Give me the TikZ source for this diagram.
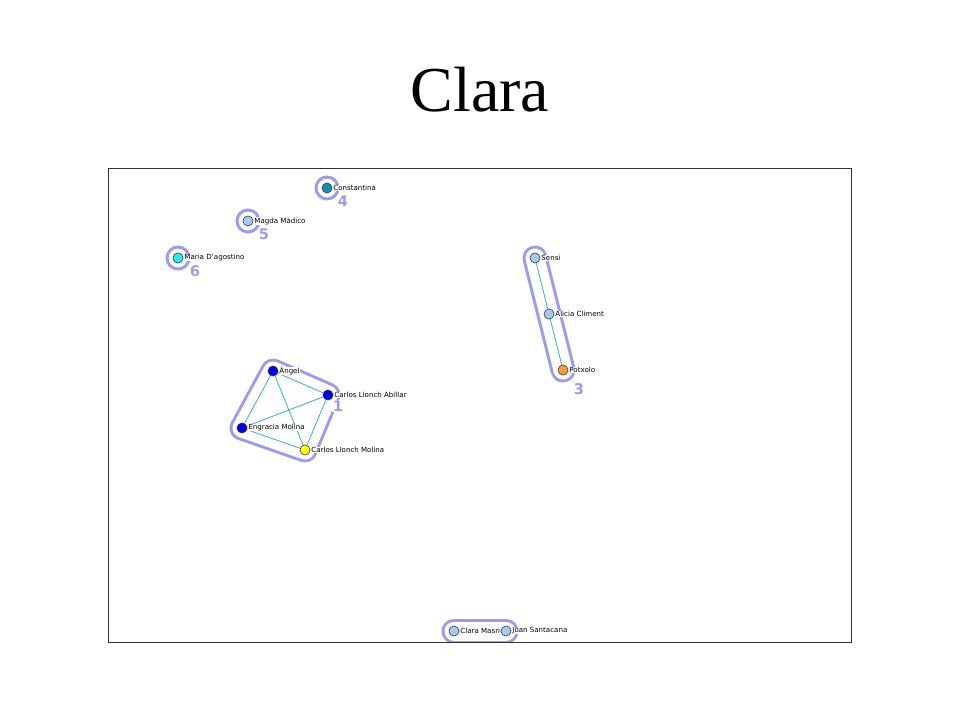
\documentclass[tikz,border=0pt]{standalone}
\usepackage{fontspec}
\setmainfont{Liberation Serif}
\setsansfont{DejaVu Sans}
\usetikzlibrary{positioning}
\definecolor{hullc}{HTML}{9C9CEE}
\definecolor{edgec}{HTML}{36AEC8}
\definecolor{bluen}{HTML}{0000E6}
\definecolor{lightn}{HTML}{A2CAF2}
\definecolor{cyann}{HTML}{22EEEE}
\definecolor{tealn}{HTML}{1490B8}
\definecolor{yellown}{HTML}{FFFF10}
\definecolor{orangen}{HTML}{FF9A3A}
\tikzset{
  person/.style={circle, draw=black!75, line width=0.45pt, inner sep=0pt, minimum size=7.6pt},
  lbl/.style={fill=white, inner sep=0pt, label distance=0.6pt, font=\sffamily\fontsize{5.3}{6}\selectfont},
  grp/.style={fill=white, inner sep=0.6pt, text=hullc, font=\sffamily\bfseries\fontsize{11}{12}\selectfont},
  hullout/.style={draw=hullc, fill=hullc, line width=18.75pt, line join=round, line cap=round},
  hullin/.style={draw=white, fill=white, line width=14.25pt, line join=round, line cap=round},
  ring/.style={draw=hullc, line width=2.25pt},
  tie/.style={edgec, line width=0.6pt}
}
\begin{document}
\begin{tikzpicture}[x=0.75pt, y=-0.75pt]
  \useasboundingbox (0,0) rectangle (960,720);
  \node (title) [anchor=base, font=\fontsize{48}{52}\selectfont] at (480,112) {Clara};
  % positions
  \coordinate (angel) at (273,371);
  \coordinate (abillar) at (328,395);
  \coordinate (engracia) at (242,428);
  \coordinate (molina) at (305,450);
  \coordinate (sensi) at (535,258);
  \coordinate (alicia) at (549,314);
  \coordinate (potxolo) at (563,370);
  \coordinate (constantina) at (327,188);
  \coordinate (magda) at (248,221);
  \coordinate (maria) at (178,258);
  \coordinate (masri) at (454,631);
  \coordinate (joan) at (506,631);
  \begin{scope}
    \clip (108,168) rectangle (851,642);
    % hulls
    \draw[hullout] (angel) -- (abillar) -- (molina) -- (engracia) -- cycle;
    \draw[hullin] (angel) -- (abillar) -- (molina) -- (engracia) -- cycle;
    \draw[hullout] (sensi) -- (potxolo);
    \draw[hullin] (sensi) -- (potxolo);
    \draw[hullout] (masri) -- (joan);
    \draw[hullin] (masri) -- (joan);
    \draw[ring] (constantina) circle (11);
    \draw[ring] (magda) circle (11);
    \draw[ring] (maria) circle (11);
    % ties
    \draw[tie] (angel) -- (abillar)
      (angel) -- (engracia)
      (angel) -- (molina)
      (abillar) -- (engracia)
      (abillar) -- (molina)
      (engracia) -- (molina)
      (sensi) -- (alicia)
      (alicia) -- (potxolo)
      (masri) -- (joan);
    % people
    \node[person, fill=bluen, label={[lbl]right:Àngel}] (angelN) at (angel) {};
    \node[person, fill=bluen, label={[lbl]right:Carlos Llonch Abillar}] (abillarN) at (abillar) {};
    \node[person, fill=bluen, label={[lbl]right:Engracia Molina}] (engraciaN) at (engracia) {};
    \node[person, fill=yellown, label={[lbl]right:Carlos Llonch Molina}] (molinaN) at (molina) {};
    \node[person, fill=lightn, label={[lbl]right:Sensi}] (sensiN) at (sensi) {};
    \node[person, fill=lightn, label={[lbl]right:Alicia Climent}] (aliciaN) at (alicia) {};
    \node[person, fill=orangen, label={[lbl]right:Potxolo}] (potxoloN) at (potxolo) {};
    \node[person, fill=tealn, label={[lbl]right:Constantina}] (constantinaN) at (constantina) {};
    \node[person, fill=lightn, label={[lbl]right:Magda Màdico}] (magdaN) at (magda) {};
    \node[person, fill=cyann, label={[lbl]right:Maria D'agostino}] (mariaN) at (maria) {};
    \node[person, fill=lightn, label={[lbl]right:Clara Masri}] (masriN) at (masri) {};
    \node[person, fill=lightn, label={[lbl]right:Joan Santacana}] (joanN) at (joan) {};
    % group numbers
    \node[grp] (g1) at (338,406) {1};
    \node[grp] (g3) at (579,389) {3};
    \node[grp] (g4) at (343,201) {4};
    \node[grp] (g5) at (264,234) {5};
    \node[grp] (g6) at (195,271) {6};
  \end{scope}
  \node (frame) [draw=black!80, line width=0.8pt, inner sep=0pt, minimum width=557.25pt, minimum height=355.5pt, anchor=north west] at (108,168) {};
\end{tikzpicture}
\end{document}
